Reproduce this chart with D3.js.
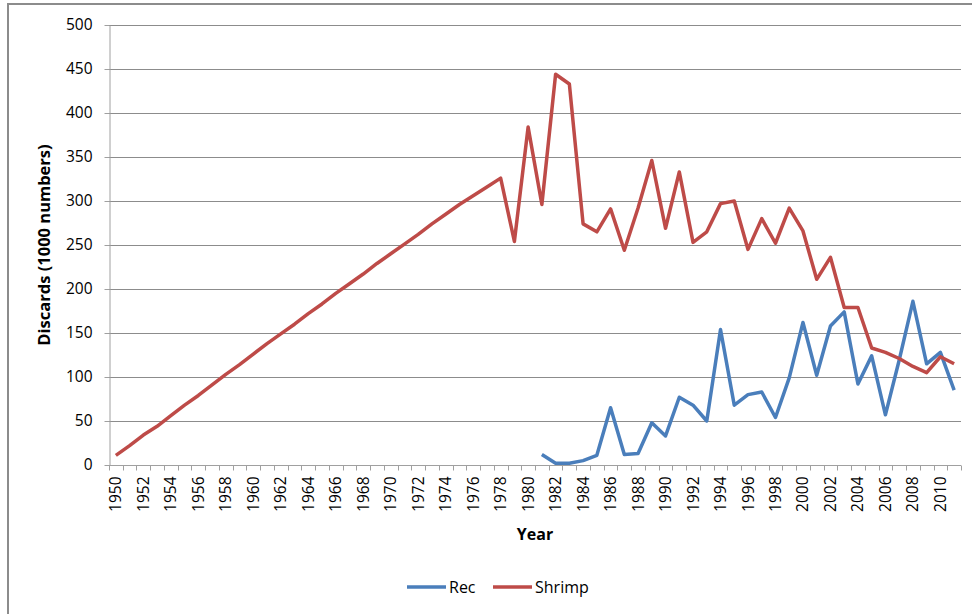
<!DOCTYPE html>
<html>
<head>
<meta charset="utf-8">
<script src="https://cdn.jsdelivr.net/npm/d3@7"></script>
<style>
    body { margin: 0; background: #fff; }
    text { font-family: 'Open Sans', sans-serif; fill: #000; }
</style>
</head>
<body>
<div id="chart"></div>
<script>
// values, 1000 numbers per year
const years = d3.range(1950, 2012);
const shrimp = [
    11, 22, 34, 44, 56, 68, 79, 91, 103, 114,
    126, 138, 149, 160, 172, 183, 195, 206, 217, 229,
    240, 251, 262, 274, 285, 296, 306, 316, 326, 254,
    384, 296, 444, 433, 274, 265, 291, 244, 292, 346,
    269, 333, 253, 265, 297, 300, 245, 280, 252, 292,
    266, 211, 236, 179, 179, 133, 128, 121, 112, 105,
    123, 115
];
// rec series begins in 1981
const rec = [
    null, null, null, null, null, null, null, null, null, null,
    null, null, null, null, null, null, null, null, null, null,
    null, null, null, null, null, null, null, null, null, null,
    null, 12, 2, 2, 5, 11, 65, 12, 13, 48,
    33, 77, 68, 50, 154, 68, 80, 83, 54, 99,
    162, 102, 158, 174, 92, 124, 57, 119, 186, 115,
    128, 85
];
const yTicks = [0, 50, 100, 150, 200, 250, 300, 350, 400, 450, 500];
const labelYears = years.filter(function(d) { return d % 2 === 0; });
const series = [
    { name: 'Rec', values: rec, color: '#4a7ebb' },
    { name: 'Shrimp', values: shrimp, color: '#be4b48' }
];

const width = 972, height = 614;
const margin = { top: 25, right: 11, bottom: 149, left: 109 };

const svg = d3.select('#chart').append('svg')
    .attr('width', width)
    .attr('height', height);

// chart frame, runs off the right and bottom of the picture
svg.append('rect')
    .attr('x', 8).attr('y', 4)
    .attr('width', 1000).attr('height', 700)
    .attr('fill', 'none')
    .attr('stroke', '#8c8c8c')
    .attr('stroke-width', 2);

const x = d3.scaleBand()
    .domain(years)
    .range([margin.left, width - margin.right])
    .padding(0);
const y = d3.scaleLinear()
    .domain([0, 500])
    .range([height - margin.bottom, margin.top]);
const xc = function(d) { return x(d) + x.bandwidth() / 2; };

// gridlines
svg.append('g')
    .selectAll('line')
    .data(yTicks.slice(1))
    .enter().append('line')
        .attr('x1', margin.left).attr('x2', width - margin.right)
        .attr('y1', function(d) { return Math.round(y(d)) + 0.5; })
        .attr('y2', function(d) { return Math.round(y(d)) + 0.5; })
        .attr('stroke', '#8c8c8c')
        .attr('stroke-width', 1);

// y axis
const yAxis = svg.append('g')
    .attr('transform', 'translate(' + (margin.left + 0.5) + ',0)')
    .call(d3.axisLeft(y).tickValues(yTicks).tickSize(5).tickPadding(12).tickSizeOuter(0));
yAxis.selectAll('text').style('font-size', '15.5px').attr('fill', '#000');
yAxis.selectAll('line, path').attr('stroke', '#a0a0a0');

// x axis: labels on even years, ticks between categories
const y0 = Math.round(y(0)) + 0.5;
const xAxis = svg.append('g');
xAxis.append('line')
    .attr('x1', margin.left).attr('x2', width - margin.right)
    .attr('y1', y0).attr('y2', y0)
    .attr('stroke', '#a0a0a0');
xAxis.selectAll('line.tk')
    .data(years.concat([null]))
    .enter().append('line')
        .attr('class', 'tk')
        .attr('x1', function(d) { return Math.round(d === null ? x.range()[1] : x(d)) + 0.5; })
        .attr('x2', function(d) { return Math.round(d === null ? x.range()[1] : x(d)) + 0.5; })
        .attr('y1', y0).attr('y2', y0 + 5)
        .attr('stroke', '#a0a0a0');
xAxis.selectAll('text')
    .data(labelYears)
    .enter().append('text')
        .attr('transform', function(d) {
            return 'translate(' + (xc(d) + 5.5) + ',' + (y0 + 11) + ') rotate(-90)';
        })
        .attr('text-anchor', 'end')
        .style('font-size', '15.5px')
        .text(function(d) { return d; });

// axis titles
svg.append('text')
    .attr('transform', 'translate(50,' + (y(250)) + ') rotate(-90)')
    .attr('text-anchor', 'middle')
    .style('font-size', '16.5px')
    .style('font-weight', 'bold')
    .text('Discards (1000 numbers)');
svg.append('text')
    .attr('x', 535).attr('y', 540)
    .attr('text-anchor', 'middle')
    .style('font-size', '16px')
    .style('font-weight', 'bold')
    .text('Year');

// lines
const line = d3.line()
    .defined(function(d) { return d != null; })
    .x(function(d, i) { return xc(years[i]); })
    .y(function(d) { return y(d); });

svg.append('g')
    .selectAll('path')
    .data(series)
    .enter().append('path')
        .attr('d', function(s) { return line(s.values); })
        .attr('fill', 'none')
        .attr('stroke', function(s) { return s.color; })
        .attr('stroke-width', 3.5)
        .attr('stroke-linejoin', 'round');

// legend
const legendX = [407, 493];
const legend = svg.append('g')
    .selectAll('g')
    .data(series)
    .enter().append('g')
        .attr('transform', function(d, i) { return 'translate(' + legendX[i] + ',587)'; });
legend.append('line')
    .attr('x1', 0).attr('x2', 39)
    .attr('stroke', function(d) { return d.color; })
    .attr('stroke-width', 3.5);
legend.append('text')
    .attr('x', 42).attr('y', 6)
    .style('font-size', '16px')
    .text(function(d) { return d.name; });
</script>
</body>
</html>
